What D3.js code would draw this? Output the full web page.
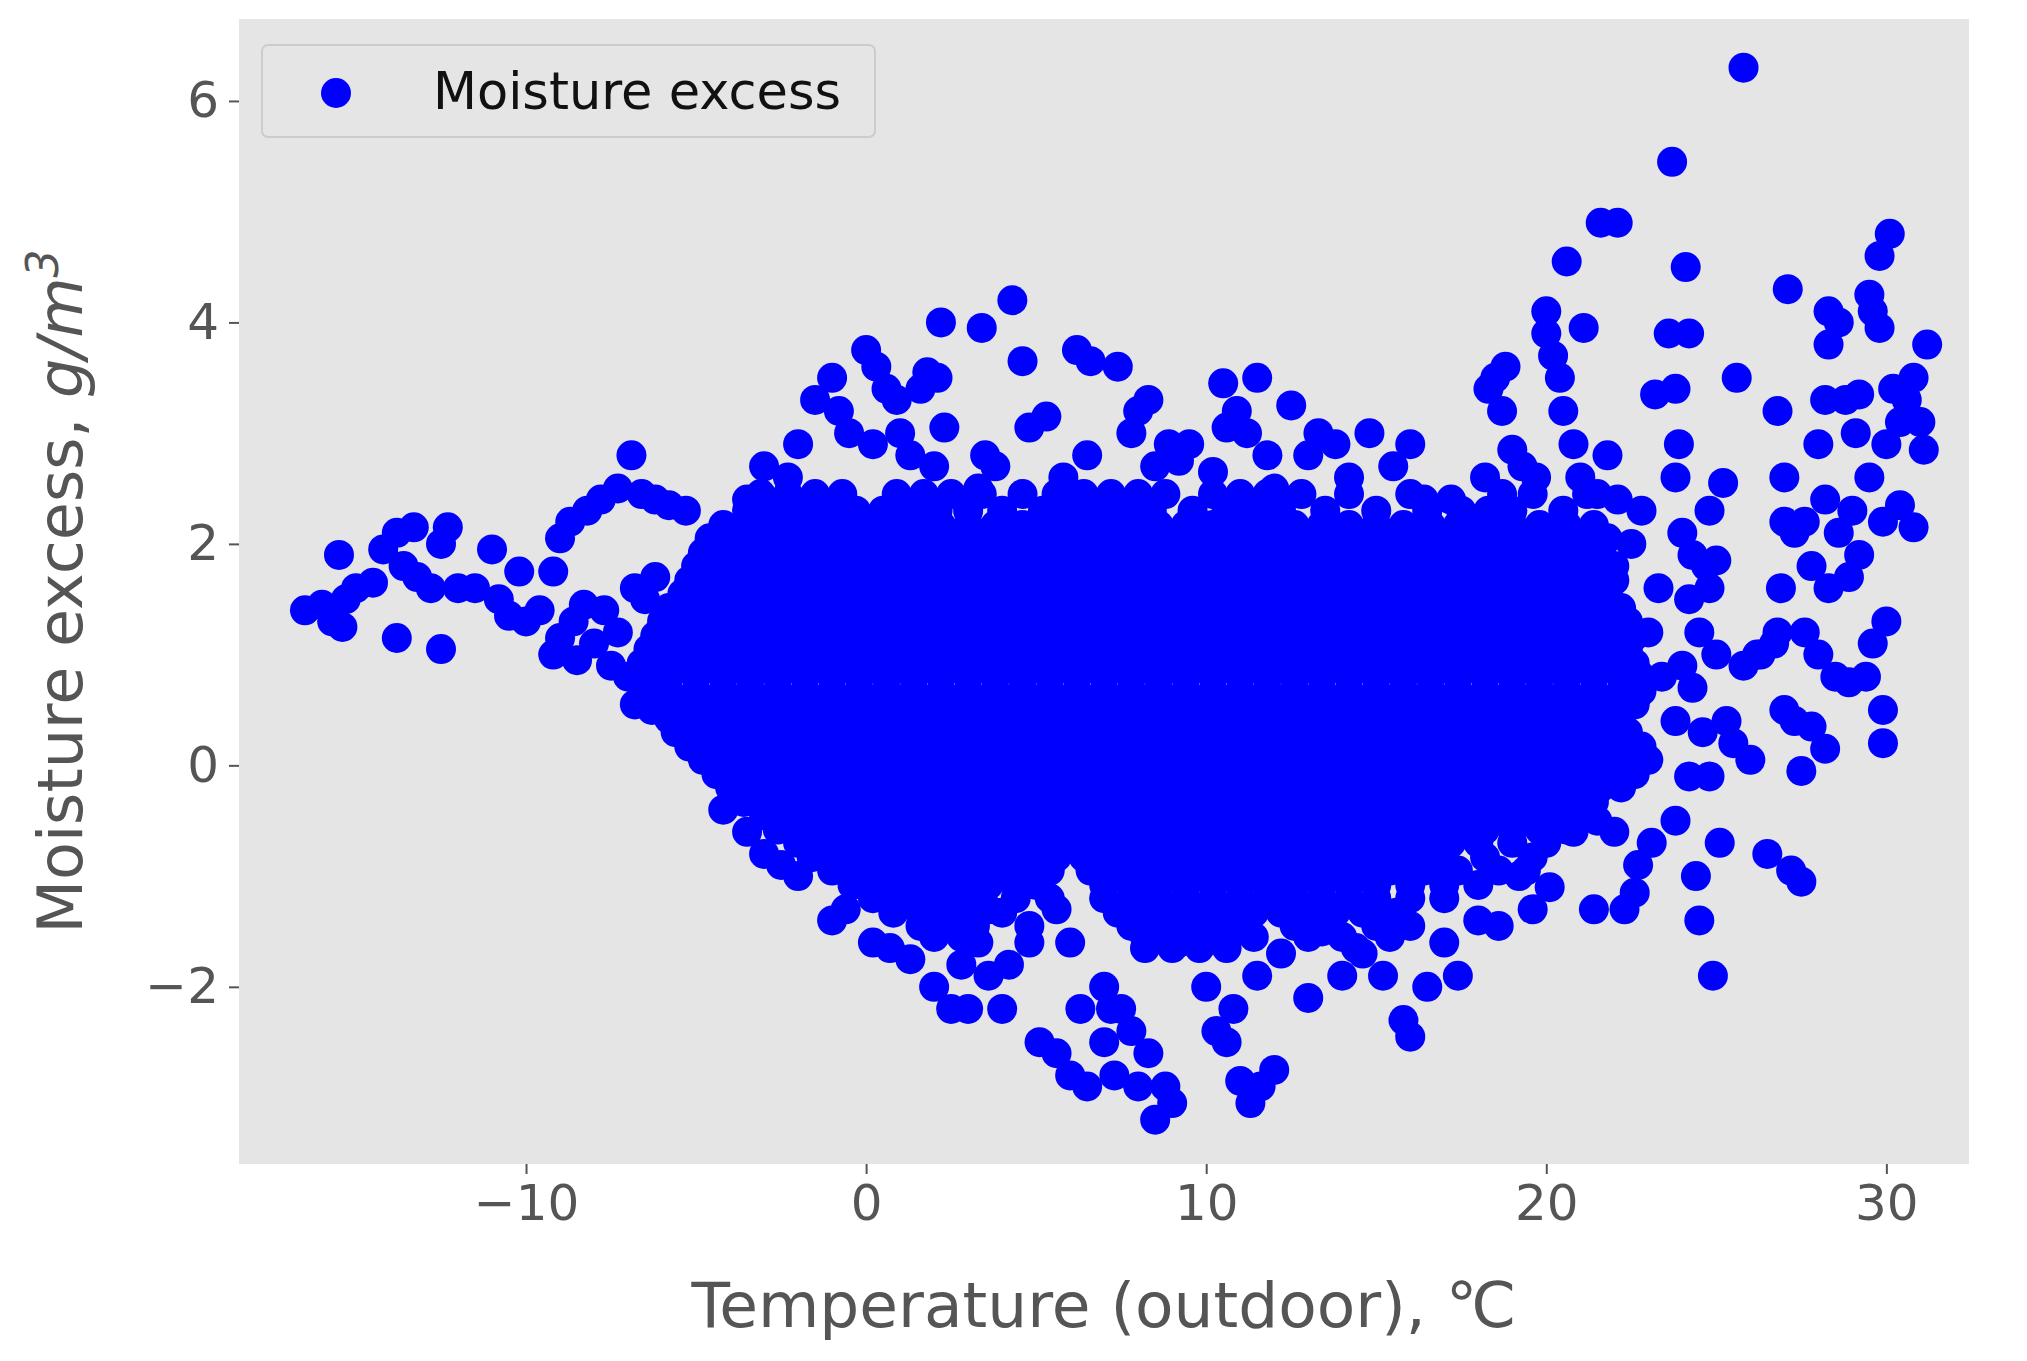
<!DOCTYPE html>
<html><head><meta charset="utf-8">
<script src="https://cdn.jsdelivr.net/npm/d3@7"></script>
<style>body{margin:0;background:#fff}</style></head>
<body><svg id="c" width="2027" height="1361"></svg>
<script>
const xTicks=[-10,0,10,20,30];
const yTicks=[-2,0,2,4,6];
const seriesName="Moisture excess";
// dense core rows: [y, x1, x2, ...]
const coreRows=[
[2.3,-3.5,-2.7,-1.9,-1.1,-0.3,0.5,1.3,2.1,3.0,4.0,5.2,6.0,6.8,7.6,8.4,9.6,10.6,11.4,12.2,13.5,15.0,16.5,17.5,18.3,19.0,20.5],
[2.05,-4.6,-3.8,-3.0,-2.2,-1.4,-0.6,0.2,1.0,1.8,2.6,3.4,4.2,5.0,5.8,6.6,7.4,8.2,9.0,9.8,10.6,11.4,12.2,13.0,13.8,14.6,15.4,16.2,17.0,17.8,18.6,19.4,20.2,21.0,21.8],
[1.8,-5.0,-4.2,-3.4,-2.6,-1.8,-1.0,-0.2,0.6,1.4,2.2,3.0,3.8,4.6,5.4,6.2,7.0,7.8,8.6,9.4,10.2,11.0,11.8,12.6,13.4,14.2,15.0,15.8,16.6,17.4,18.2,19.0,19.8,20.6,21.4,22.0],
[1.55,-5.4,-4.6,-3.8,-3.0,-2.2,-1.4,-0.6,0.2,1.0,1.8,2.6,3.4,4.2,5.0,5.8,6.6,7.4,8.2,9.0,9.8,10.6,11.4,12.2,13.0,13.8,14.6,15.4,16.2,17.0,17.8,18.6,19.4,20.2,21.0,21.8],
[1.3,-6.0,-5.2,-4.4,-3.6,-2.8,-2.0,-1.2,-0.4,0.4,1.2,2.0,2.8,3.6,4.4,5.2,6.0,6.8,7.6,8.4,9.2,10.0,10.8,11.6,12.4,13.2,14.0,14.8,15.6,16.4,17.2,18.0,18.8,19.6,20.4,21.2,22.0,22.4],
[1.05,-6.4,-5.6,-4.8,-4.0,-3.2,-2.4,-1.6,-0.8,0.0,0.8,1.6,2.4,3.2,4.0,4.8,5.6,6.4,7.2,8.0,8.8,9.6,10.4,11.2,12.0,12.8,13.6,14.4,15.2,16.0,16.8,17.6,18.4,19.2,20.0,20.8,21.6,22.4],
[0.8,-6.6,-5.8,-5.0,-4.2,-3.4,-2.6,-1.8,-1.0,-0.2,0.6,1.4,2.2,3.0,3.8,4.6,5.4,6.2,7.0,7.8,8.6,9.4,10.2,11.0,11.8,12.6,13.4,14.2,15.0,15.8,16.6,17.4,18.2,19.0,19.8,20.6,21.4,22.2,22.8],
[0.55,-6.2,-5.4,-4.6,-3.8,-3.0,-2.2,-1.4,-0.6,0.2,1.0,1.8,2.6,3.4,4.2,5.0,5.8,6.6,7.4,8.2,9.0,9.8,10.6,11.4,12.2,13.0,13.8,14.6,15.4,16.2,17.0,17.8,18.6,19.4,20.2,21.0,21.8,22.6],
[0.3,-5.6,-4.8,-4.0,-3.2,-2.4,-1.6,-0.8,0.0,0.8,1.6,2.4,3.2,4.0,4.8,5.6,6.4,7.2,8.0,8.8,9.6,10.4,11.2,12.0,12.8,13.6,14.4,15.2,16.0,16.8,17.6,18.4,19.2,20.0,20.8,21.6,22.4],
[0.05,-4.8,-4.0,-3.2,-2.4,-1.6,-0.8,0.0,0.8,1.6,2.4,3.2,4.0,4.8,5.6,6.4,7.2,8.0,8.8,9.6,10.4,11.2,12.0,12.8,13.6,14.4,15.2,16.0,16.8,17.6,18.4,19.2,20.0,20.8,21.6,22.4,23.0],
[-0.2,-4.0,-3.2,-2.4,-1.6,-0.8,0.0,0.8,1.6,2.4,3.2,4.0,4.8,5.6,6.4,7.2,8.0,8.8,9.6,10.4,11.2,12.0,12.8,13.6,14.4,15.2,16.0,16.8,17.6,18.4,19.2,20.0,20.8,21.6,22.2],
[-0.45,-3.0,-2.2,-1.4,-0.6,0.2,1.0,1.8,2.6,3.4,4.2,5.0,5.8,6.6,7.4,8.2,9.0,9.8,10.6,11.4,12.2,13.0,13.8,14.6,15.4,16.2,17.0,17.8,18.6,19.4,20.2,21.0],
[-0.7,-2.0,-1.2,-0.4,0.4,1.2,2.0,2.8,3.6,4.4,5.2,6.0,6.8,7.6,8.4,9.2,10.0,10.8,11.6,12.4,13.2,14.0,14.8,15.6,16.4,17.2,18.0,19.0,20.0],
[-0.95,-1.0,-0.2,0.6,1.4,2.2,3.0,3.8,4.6,5.4,6.6,7.4,8.2,9.0,9.8,10.6,11.4,12.2,13.0,13.8,14.6,15.4,16.4,17.4,18.6,19.4],
[-1.2,0.2,1.0,1.8,2.6,3.4,4.4,5.4,7.0,7.8,8.6,9.4,10.2,11.0,11.8,12.6,13.4,14.2,15.0,16.0,17.0],
[-1.45,1.6,2.4,3.2,4.8,7.8,8.6,9.4,10.2,11.0,12.6,13.4,15.0,16.0],
[-1.65,8.2,9.0,9.8,10.6,14.4]
];
// interleaved rows of the dense core: [y, x1, x2, ...]
const coreRowsB=[
[2.45,-3.1,-2.3,-1.5,-0.7,0.9,1.7,2.5,3.4,4.6,5.6,6.4,7.2,8.0,8.8,10.2,11.0,11.8,12.8,14.2,16.0,18.7,19.6,21.2],
[2.17,-4.2,-3.4,-2.6,-1.8,-1.0,-0.2,0.6,1.4,2.2,3.0,3.8,4.6,5.4,6.2,7.0,7.8,8.6,9.4,10.2,11.0,11.8,12.6,13.4,14.2,15.0,15.8,16.6,17.4,18.2,19.0,19.8,20.6,21.4],
[1.92,-4.8,-4.0,-3.2,-2.4,-1.6,-0.8,0.0,0.8,1.6,2.4,3.2,4.0,4.8,5.6,6.4,7.2,8.0,8.8,9.6,10.4,11.2,12.0,12.8,13.6,14.4,15.2,16.0,16.8,17.6,18.4,19.2,20.0,20.8,21.6],
[1.67,-5.2,-4.4,-3.6,-2.8,-2.0,-1.2,-0.4,0.4,1.2,2.0,2.8,3.6,4.4,5.2,6.0,6.8,7.6,8.4,9.2,10.0,10.8,11.6,12.4,13.2,14.0,14.8,15.6,16.4,17.2,18.0,18.8,19.6,20.4,21.2,22.0],
[1.42,-5.8,-5.0,-4.2,-3.4,-2.6,-1.8,-1.0,-0.2,0.6,1.4,2.2,3.0,3.8,4.6,5.4,6.2,7.0,7.8,8.6,9.4,10.2,11.0,11.8,12.6,13.4,14.2,15.0,15.8,16.6,17.4,18.2,19.0,19.8,20.6,21.4,22.2],
[1.17,-6.2,-5.4,-4.6,-3.8,-3.0,-2.2,-1.4,-0.6,0.2,1.0,1.8,2.6,3.4,4.2,5.0,5.8,6.6,7.4,8.2,9.0,9.8,10.6,11.4,12.2,13.0,13.8,14.6,15.4,16.2,17.0,17.8,18.6,19.4,20.2,21.0,21.8,22.6],
[0.92,-6.6,-6.0,-5.2,-4.4,-3.6,-2.8,-2.0,-1.2,-0.4,0.4,1.2,2.0,2.8,3.6,4.4,5.2,6.0,6.8,7.6,8.4,9.2,10.0,10.8,11.6,12.4,13.2,14.0,14.8,15.6,16.4,17.2,18.0,18.8,19.6,20.4,21.2,22.0,22.6],
[0.67,-6.4,-5.8,-5.0,-4.2,-3.4,-2.6,-1.8,-1.0,-0.2,0.6,1.4,2.2,3.0,3.8,4.6,5.4,6.2,7.0,7.8,8.6,9.4,10.2,11.0,11.8,12.6,13.4,14.2,15.0,15.8,16.6,17.4,18.2,19.0,19.8,20.6,21.4,22.2,22.8],
[0.42,-5.8,-5.0,-4.2,-3.4,-2.6,-1.8,-1.0,-0.2,0.6,1.4,2.2,3.0,3.8,4.6,5.4,6.2,7.0,7.8,8.6,9.4,10.2,11.0,11.8,12.6,13.4,14.2,15.0,15.8,16.6,17.4,18.2,19.0,19.8,20.6,21.4,22.2],
[0.17,-5.2,-4.4,-3.6,-2.8,-2.0,-1.2,-0.4,0.4,1.2,2.0,2.8,3.6,4.4,5.2,6.0,6.8,7.6,8.4,9.2,10.0,10.8,11.6,12.4,13.2,14.0,14.8,15.6,16.4,17.2,18.0,18.8,19.6,20.4,21.2,22.0,22.8],
[-0.08,-4.4,-3.6,-2.8,-2.0,-1.2,-0.4,0.4,1.2,2.0,2.8,3.6,4.4,5.2,6.0,6.8,7.6,8.4,9.2,10.0,10.8,11.6,12.4,13.2,14.0,14.8,15.6,16.4,17.2,18.0,18.8,19.6,20.4,21.2,22.0,22.6],
[-0.33,-3.6,-2.8,-2.0,-1.2,-0.4,0.4,1.2,2.0,2.8,3.6,4.4,5.2,6.0,6.8,7.6,8.4,9.2,10.0,10.8,11.6,12.4,13.2,14.0,14.8,15.6,16.4,17.2,18.0,18.8,19.6,20.4,21.4],
[-0.58,-2.6,-1.8,-1.0,-0.2,0.6,1.4,2.2,3.0,3.8,4.6,5.4,6.2,7.0,7.8,8.6,9.4,10.2,11.0,11.8,12.6,13.4,14.2,15.0,15.8,16.6,17.4,18.2,19.0,19.8,20.6],
[-0.83,-1.6,-0.8,0.0,0.8,1.6,2.4,3.2,4.0,4.8,5.6,6.4,7.2,8.0,8.8,9.6,10.4,11.2,12.0,12.8,13.6,14.4,15.2,16.0,17.0,18.2,19.6],
[-1.08,-0.4,0.4,1.2,2.0,2.8,3.6,4.4,5.0,7.0,7.8,8.6,9.4,10.2,11.0,11.8,12.6,13.4,14.2,15.0,16.0,17.0,18.0],
[-1.33,0.8,1.6,2.4,3.0,4.0,7.4,8.2,9.0,9.8,10.6,11.4,12.2,13.0,13.8,14.6,15.6],
[-1.55,2.0,2.8,8.2,9.0,9.8,10.6,11.4,13.0,14.0,15.4]
];
const outX=[-16.5,-16,-15.7,-15.4,-15.3,-15.5,-15,-14.5,-14.2,-13.8,-13.3,-13.6,-13.2,-12.8,-12.5,-12.3,-12,-11.5,-11,-10.8,-10.5,-10.2,-10,-9.6,-9.2,-9,-8.6,-8.3,-8,-13.8,-12.5,-9.2,-9,-8.7,-8.2,-7.8,-7.3,-6.9,-6.6,-6.2,-5.8,-5.3,-6.8,-6.5,-6.2,-7.3,-7.5,-7,-6.8,-6.3,-7.7,-8.5,
-3.5,-3,-2.3,-2,-1.5,-1,-0.8,-0.5,0,0.3,0.6,0.9,0.2,1,1.3,1.6,1.8,2.1,2.2,2.3,2,3.4,3.5,3.3,3.8,4.3,4.6,4.8,5.3,5.8,6.2,6.6,6.5,7.4,7.8,8,8.3,8.5,8.9,9.2,9.5,10.2,10.5,10.6,10.9,11.2,11.5,11.8,12.5,12,13,13.3,13.8,14.2,14.8,15.5,16,16.4,17.2,
18.2,18.3,18.5,18.8,18.7,19,19.3,19.7,20,20,20.2,20.4,20.6,20.5,20.8,21.1,21,21.5,21.6,22.1,21.8,22.1,22.5,22.8,23.2,23.6,23.8,23.9,23.8,23.7,24.1,24.2,24,24.3,24.7,25,24.8,25.2,25.6,25.8,24.2,24.5,24.8,23.3,23,23.4,23.8,24,24.3,24.6,24.2,24.8,23.8,24.4,24.5,24.9,25.1,25,25.3,25.5,25.8,26,26.2,26.5,26.7,26.9,27,27.2,27.5,27.3,27.5,27.8,28.2,27.6,28,28.5,28.9,29.4,29.6,29.9,29.9,30,27.1,26.8,27,27.3,27.6,28,28.2,28.3,28.3,28.6,28.8,29.1,29.2,29.5,29.6,29.8,29.8,30.1,30.2,30.4,30.6,30.8,31,31.1,31.2,30.8,30.4,29.9,29.5,29,28.6,28.2,27.8,28.3,28.9,29.2,30,27,26.8,26.3,22.3,22.7,23.1,22.6,21.4,20.8,21.5,22,
-1,-0.6,0.2,0.7,1.3,2,2.5,2.8,3,3.3,3.6,4,4.2,4.8,5.1,5.6,6,6.3,6.5,7,7.2,7.5,7.8,8,8.3,8.5,8.8,9,7,7.3,10,10.3,10.6,10.8,11,11.3,11.6,12,11.5,12.2,13,13.4,14,14.6,15.2,15.8,16,16.5,17,17.4,18,18.6,19.2,19.6,20.1,-3.5,-3,-2.5,-4.8,-4.2,-2,6,5.6,9.2,3.6];
const outY=[1.4,1.45,1.3,1.25,1.5,1.9,1.6,1.65,1.95,2.1,2.15,1.8,1.7,1.6,2,2.15,1.6,1.6,1.95,1.5,1.35,1.75,1.3,1.4,1,1.15,1.3,1.45,1.1,1.15,1.05,1.75,2.05,2.2,2.3,2.4,2.5,2.8,2.45,2.4,2.35,2.3,1.6,1.5,1.7,1.2,0.9,0.8,0.55,0.5,1.4,0.95,
2.4,2.7,2.6,2.9,3.3,3.5,3.2,3,3.75,3.6,3.4,3.3,2.9,3,2.8,3.4,3.55,3.5,4,3.05,2.7,3.95,2.8,2.5,2.7,4.2,3.65,3.05,3.15,2.6,3.75,3.65,2.8,3.6,3,3.2,3.3,2.7,2.9,2.75,2.9,2.65,3.45,3.05,3.2,3,3.5,2.8,3.25,2.5,2.8,3,2.9,2.6,3,2.7,2.9,2.4,2.4,
2.6,3.4,3.5,3.6,3.2,2.85,2.7,2.6,4.1,3.9,3.7,3.5,4.55,3.2,2.9,3.95,2.6,2.45,4.9,4.9,2.8,2.4,2,2.3,3.35,3.9,3.4,2.9,2.6,5.45,4.5,3.9,2.1,1.9,1.8,1.85,2.3,2.55,3.5,6.3,1.5,1.2,1.6,1.6,1.2,0.8,0.4,0.9,0.7,0.3,-0.1,-0.1,-0.5,-1,-1.4,-1.9,-0.7,1,0.4,0.2,0.9,0.05,1,-0.8,1.1,1.6,0.5,-0.95,-1.05,0.4,-0.05,0.35,0.15,1.2,1,0.8,0.75,0.8,1.1,0.5,0.2,1.3,4.3,3.2,2.6,2.1,2.2,2.9,3.3,4.1,3.8,4,3.3,3,3.35,4.25,4.1,3.95,4.6,4.8,3.4,3.1,3.3,3.5,3.1,2.85,3.8,2.15,2.35,2.2,2.6,2.3,2.1,2.4,1.8,1.6,1.7,1.9,2.9,2.2,1.2,1,-1.3,-0.9,-0.7,-1.15,-1.3,-0.6,-0.5,-0.6,
-1.4,-1.3,-1.6,-1.65,-1.75,-2,-2.2,-1.8,-2.2,-1.6,-1.9,-2.2,-1.8,-1.6,-2.5,-2.6,-2.8,-2.2,-2.9,-2.5,-2.2,-2.2,-2.4,-2.9,-2.6,-3.2,-2.9,-3.05,-2,-2.8,-2,-2.4,-2.5,-2.2,-2.85,-3.05,-2.9,-2.75,-1.9,-1.7,-2.1,-1.5,-1.9,-1.7,-1.9,-2.3,-2.45,-2,-1.6,-1.9,-1.4,-1.45,-1,-1.3,-1.1,-0.6,-0.8,-0.9,0.1,-0.4,-1,-1.6,-1.3,-1.6,-1.3];

const pts=[];
coreRows.concat(coreRowsB).forEach(r=>{for(let i=1;i<r.length;i++)pts.push([r[i],r[0]]);});
outX.forEach((x,i)=>pts.push([x,outY[i]]));

const svg=d3.select("#c");
const L=239,R=1969,T=19,B=1164;
const x=d3.scaleLinear().domain([-18.44,32.43]).range([L,R]);
const y=d3.scaleLinear().domain([-3.6,6.74]).range([B,T]);
svg.append("rect").attr("x",L).attr("y",T).attr("width",R-L).attr("height",B-T).attr("fill","#e5e5e5");
svg.append("g").selectAll("circle").data(pts).join("circle")
 .attr("cx",d=>x(d[0])).attr("cy",d=>y(d[1])).attr("r",15).attr("fill","#0000ff");
const fmt=d=>d<0?"\u2212"+(-d):""+d;
const xa=svg.append("g").attr("transform",`translate(0,${B})`).call(d3.axisBottom(x).tickValues(xTicks).tickFormat(fmt).tickSize(10).tickPadding(10));
const ya=svg.append("g").attr("transform",`translate(${L},0)`).call(d3.axisLeft(y).tickValues(yTicks).tickFormat(fmt).tickSize(10).tickPadding(10));
[xa,ya].forEach(a=>{a.select(".domain").remove();a.selectAll("line").attr("stroke","#555").attr("stroke-width",2);
 a.selectAll("text").attr("fill","#555").style("font-family","DejaVu Sans").style("font-size","50px");});
svg.append("text").attr("x",(L+R)/2).attr("y",1327).attr("text-anchor","middle").attr("fill","#555")
 .style("font-family","DejaVu Sans").style("font-size","63px").text("Temperature (outdoor), \u2103");
const yl=svg.append("text").attr("transform",`translate(82,${(T+B)/2}) rotate(-90)`).attr("text-anchor","middle").attr("fill","#555")
 .style("font-family","DejaVu Sans").style("font-size","62px");
yl.append("tspan").text("Moisture excess, ");
yl.append("tspan").style("font-style","italic").text("g/m");
yl.append("tspan").attr("dy",-24).style("font-size","44px").style("font-style","italic").text("3");
const lg=svg.append("g");
lg.append("rect").attr("x",262).attr("y",45).attr("width",613).attr("height",92).attr("rx",6).attr("fill","#e5e5e5").attr("stroke","#cccccc").attr("stroke-width",2);
lg.append("circle").attr("cx",336).attr("cy",93).attr("r",15).attr("fill","#0000ff");
lg.append("text").attr("x",433).attr("y",109).attr("fill","#111").style("font-family","DejaVu Sans").style("font-size","51px").text(seriesName);
</script></body></html>
